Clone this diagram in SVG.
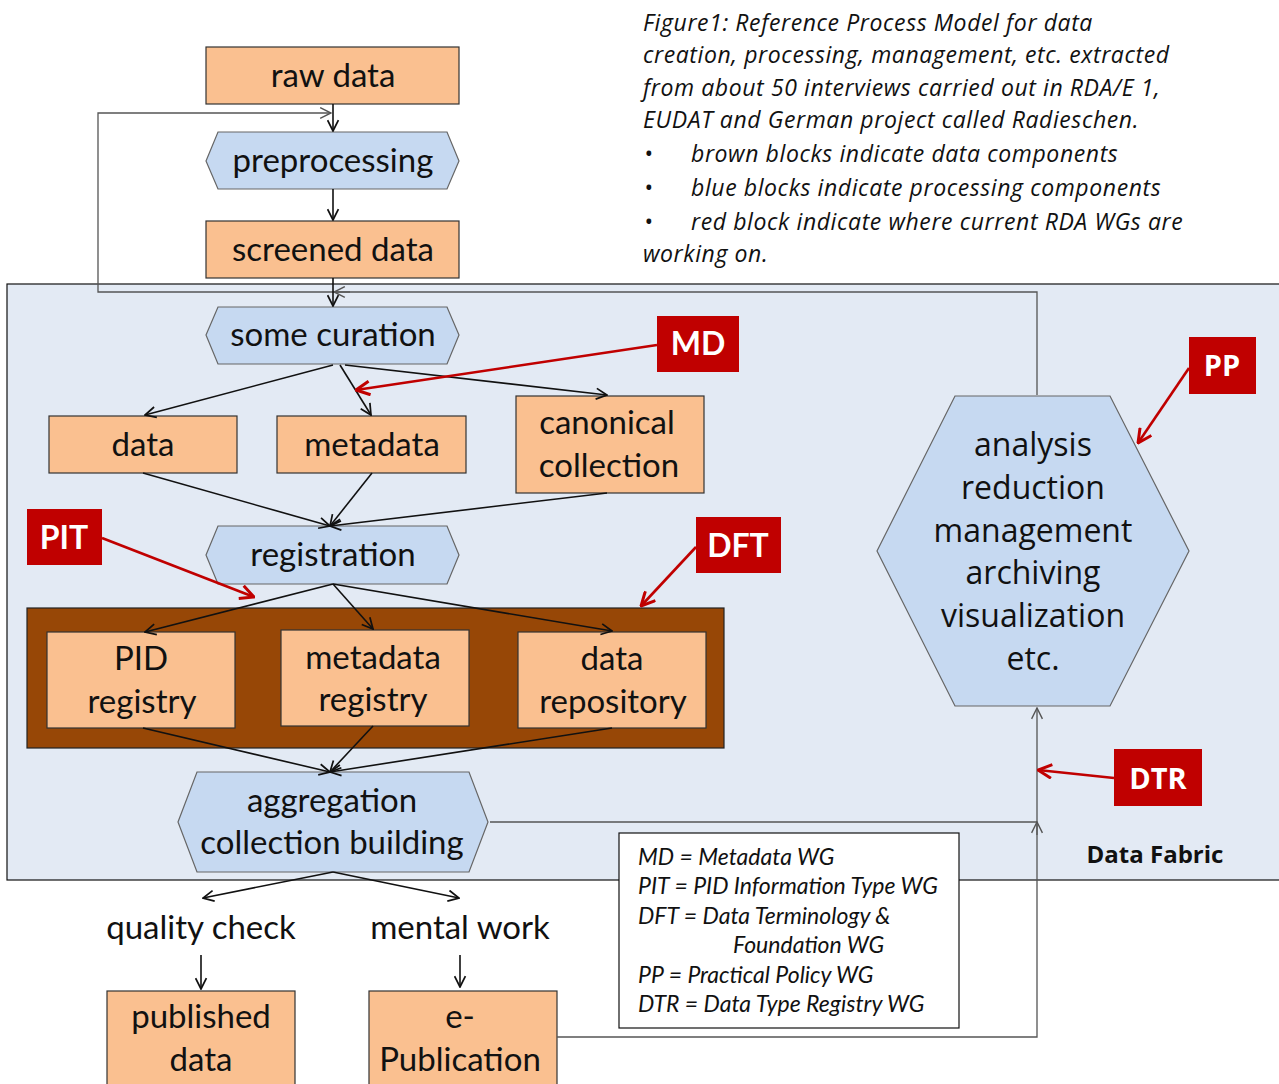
<svg xmlns="http://www.w3.org/2000/svg" width="1279" height="1084" viewBox="0 0 1279 1084">
<style>
.box{fill:#fac090;stroke:#333;stroke-width:1.2}
.hex{fill:#c6d9f1;stroke:#666;stroke-width:1.2}
.red{fill:#c00000}
.t{font-family:Lato,"Liberation Sans",sans-serif;font-size:33px;fill:#111;text-anchor:middle}
.o{font-family:"Open Sans","Liberation Sans",sans-serif;font-size:32px;fill:#111;text-anchor:middle}
.rl{font-family:Lato,"Liberation Sans",sans-serif;font-weight:bold;font-size:32px;fill:#fff;text-anchor:middle}
.ro{font-family:"Open Sans","Liberation Sans",sans-serif;font-weight:bold;font-size:29px;fill:#fff;text-anchor:middle}
.cap{font-family:"Open Sans","Liberation Sans",sans-serif;font-style:italic;font-size:23px;letter-spacing:0.6px;fill:#111}
.leg{font-family:Lato,"Liberation Sans",sans-serif;font-style:italic;font-size:23px;fill:#111}
.c{fill:none;stroke:#111;stroke-width:1.6}
.g{fill:none;stroke:#555;stroke-width:1.3}
.r{fill:none;stroke:#c00000;stroke-width:2.6}
</style>
<defs>
<marker id="a" viewBox="0 0 12 12" refX="11" refY="6" markerWidth="13" markerHeight="13" markerUnits="userSpaceOnUse" orient="auto"><path d="M1,1 L11,6 L1,11" fill="none" stroke="#111" stroke-width="1.6"/></marker>
<marker id="ag" viewBox="0 0 12 12" refX="11" refY="6" markerWidth="13" markerHeight="13" markerUnits="userSpaceOnUse" orient="auto"><path d="M1,1 L11,6 L1,11" fill="none" stroke="#555" stroke-width="1.3"/></marker>
<marker id="ar" viewBox="0 0 14 14" refX="13" refY="7" markerWidth="16" markerHeight="16" markerUnits="userSpaceOnUse" orient="auto"><path d="M1,1 L13,7 L1,13" fill="none" stroke="#c00000" stroke-width="2.6"/></marker>
</defs>
<rect width="1279" height="1084" fill="#fff"/>
<g id="data-fabric">
<rect x="7" y="284" width="1290" height="596" fill="#e3eaf4" stroke="#111" stroke-width="1.2"/>
<text x="1155" y="863" font-family="'Open Sans','Liberation Sans',sans-serif" font-weight="bold" font-size="24" fill="#111" text-anchor="middle">Data Fabric</text>
</g>
<g id="caption">
<text class="cap" x="643" y="31">Figure1: Reference Process Model for data</text>
<text class="cap" x="643" y="63">creation, processing, management, etc. extracted</text>
<text class="cap" x="643" y="96">from about 50 interviews carried out in RDA/E 1,</text>
<text class="cap" x="643" y="128">EUDAT and German project called Radieschen.</text>
<text class="cap" x="644" y="162">•</text><text class="cap" x="691" y="162">brown blocks indicate data components</text>
<text class="cap" x="644" y="196">•</text><text class="cap" x="691" y="196">blue blocks indicate processing components</text>
<text class="cap" x="644" y="230">•</text><text class="cap" x="691" y="230">red block indicate where current RDA WGs are</text>
<text class="cap" x="643" y="262">working on.</text>
</g>
<g id="raw-data"><rect class="box" x="206" y="47" width="253" height="57"/><text class="t" x="333" y="87">raw data</text></g>
<g id="preprocessing"><polygon class="hex" points="206,161 218,132 447,132 459,161 447,189 218,189"/><text class="t" x="333" y="172">preprocessing</text></g>
<g id="screened-data"><rect class="box" x="206" y="221" width="253" height="57"/><text class="t" x="333" y="261">screened data</text></g>
<g id="some-curation"><polygon class="hex" points="206,335 218,307 447,307 459,335 447,364 218,364"/><text class="t" x="333" y="346">some curation</text></g>
<g id="data"><rect class="box" x="49" y="416" width="188" height="57"/><text class="t" x="143" y="456">data</text></g>
<g id="metadata"><rect class="box" x="277" y="416" width="189" height="57"/><text class="t" x="372" y="456">metadata</text></g>
<g id="canonical-collection"><rect class="box" x="516" y="396" width="188" height="97"/><text class="t" x="607" y="434">canonical</text><text class="t" x="609" y="477">collection</text></g>
<g id="registration"><polygon class="hex" points="206,555 218,526 447,526 459,555 447,584 218,584"/><text class="t" x="333" y="566">registration</text></g>
<g id="registry-group"><rect x="27" y="608" width="697" height="140" fill="#974706" stroke="#222" stroke-width="1.2"/></g>
<g id="pid-registry"><rect class="box" x="47" y="632" width="188" height="96"/><text class="t" x="141" y="670">PID</text><text class="t" x="142" y="713">registry</text></g>
<g id="metadata-registry"><rect class="box" x="281" y="630" width="188" height="96"/><text class="t" x="373" y="669">metadata</text><text class="t" x="373" y="711">registry</text></g>
<g id="data-repository"><rect class="box" x="518" y="632" width="188" height="96"/><text class="t" x="612" y="670">data</text><text class="t" x="613" y="713">repository</text></g>
<g id="aggregation"><polygon class="hex" points="178,822 197,772 469,772 488,822 469,872 197,872"/><text class="t" x="332" y="812">aggregation</text><text class="t" x="332" y="854">collection building</text></g>
<g id="quality-check"><text class="t" x="201" y="939">quality check</text></g>
<g id="mental-work"><text class="t" x="460" y="939">mental work</text></g>
<g id="published-data"><rect class="box" x="107" y="991" width="188" height="100"/><text class="t" x="201" y="1028">published</text><text class="t" x="201" y="1071">data</text></g>
<g id="e-publication"><rect class="box" x="369" y="991" width="188" height="100"/><text class="t" x="460" y="1028">e-</text><text class="t" x="460" y="1071">Publication</text></g>
<g id="analysis"><polygon class="hex" points="877,551 955,396 1110,396 1189,551 1110,706 955,706"/>
<text class="o" x="1033" y="456">analysis</text><text class="o" x="1033" y="499">reduction</text><text class="o" x="1033" y="542">management</text><text class="o" x="1033" y="584">archiving</text><text class="o" x="1033" y="627">visualization</text><text class="o" x="1033" y="670">etc.</text></g>
<g id="connectors">
<path class="g" d="M1037,395 V292 H98 V113 H331" marker-end="url(#ag)"/>
<path class="g" d="M350,292 L334,292" marker-end="url(#ag)"/>
<path class="g" d="M557,1037 H1037 V708" marker-end="url(#ag)"/>
<path class="g" d="M490,822 H1037"/>
<path class="g" d="M1037,835 V822" marker-end="url(#ag)"/>
<path class="c" d="M333,104 V131" marker-end="url(#a)"/>
<path class="c" d="M333,189 V220" marker-end="url(#a)"/>
<path class="c" d="M333,278 V306" marker-end="url(#a)"/>
<path class="c" d="M333,365 L145,415" marker-end="url(#a)"/>
<path class="c" d="M340,365 L371,415" marker-end="url(#a)"/>
<path class="c" d="M345,365 L607,395" marker-end="url(#a)"/>
<path class="c" d="M143,473 L330,526" marker-end="url(#a)"/>
<path class="c" d="M372,473 L330,526" marker-end="url(#a)"/>
<path class="c" d="M607,493 L330,526" marker-end="url(#a)"/>
<path class="c" d="M333,584 L145,632" marker-end="url(#a)"/>
<path class="c" d="M333,584 L373,629" marker-end="url(#a)"/>
<path class="c" d="M333,584 L612,631" marker-end="url(#a)"/>
<path class="c" d="M143,728 L330,772" marker-end="url(#a)"/>
<path class="c" d="M373,726 L330,772" marker-end="url(#a)"/>
<path class="c" d="M612,728 L330,772" marker-end="url(#a)"/>
<path class="c" d="M333,872 L203,898" marker-end="url(#a)"/>
<path class="c" d="M333,872 L459,898" marker-end="url(#a)"/>
<path class="c" d="M201,955 V989" marker-end="url(#a)"/>
<path class="c" d="M460,955 V987" marker-end="url(#a)"/>
</g>
<g id="md"><rect class="red" x="657" y="316" width="82" height="56"/><text class="rl" x="698" y="355">MD</text><path class="r" d="M657,345 L356,390" marker-end="url(#ar)"/></g>
<g id="pp"><rect class="red" x="1189" y="337" width="67" height="57"/><text class="ro" x="1222" y="376">PP</text><path class="r" d="M1189,368 L1138,443" marker-end="url(#ar)"/></g>
<g id="pit"><rect class="red" x="27" y="509" width="75" height="56"/><text class="rl" x="64" y="549">PIT</text><path class="r" d="M102,538 L254,597" marker-end="url(#ar)"/></g>
<g id="dft"><rect class="red" x="696" y="517" width="85" height="56"/><text class="rl" x="738" y="557">DFT</text><path class="r" d="M696,547 L641,606" marker-end="url(#ar)"/></g>
<g id="dtr"><rect class="red" x="1114" y="749" width="88" height="57"/><text class="ro" x="1158" y="789">DTR</text><path class="r" d="M1114,778 L1038,770" marker-end="url(#ar)"/></g>
<g id="legend"><rect x="619" y="833" width="340" height="195" fill="#fff" stroke="#111" stroke-width="1.2"/>
<text class="leg" x="638" y="865">MD = Metadata WG</text>
<text class="leg" x="638" y="894">PIT = PID Information Type WG</text>
<text class="leg" x="638" y="924">DFT = Data Terminology &amp;</text>
<text class="leg" x="733" y="953">Foundation WG</text>
<text class="leg" x="638" y="983">PP = Practical Policy WG</text>
<text class="leg" x="638" y="1012">DTR = Data Type Registry WG</text>
</g>
</svg>
